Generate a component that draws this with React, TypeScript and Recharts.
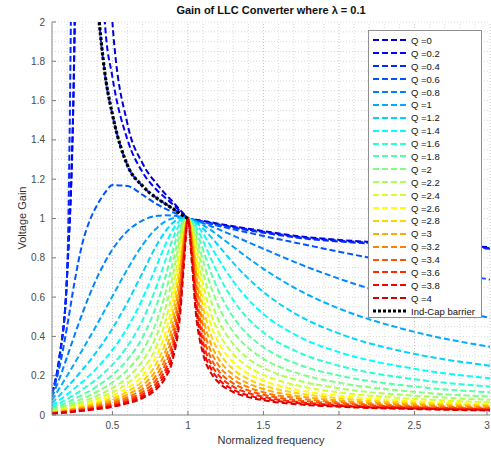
import { LineChart, Line, XAxis, YAxis, ReferenceLine } from "recharts"

// normalized frequency samples
const freqs = [0.1, 0.15, 0.2, 0.25, 0.3, 0.35, 0.4, 0.45, 0.5, 0.6, 0.7, 0.8, 0.85, 0.9, 0.95, 0.975, 1, 1.025, 1.05, 1.1, 1.15, 1.2, 1.3, 1.4, 1.5, 1.75, 2, 2.5, 3]

const qLabels = ["0", "0.2", "0.4", "0.6", "0.8", "1", "1.2", "1.4", "1.6", "1.8", "2", "2.2", "2.4", "2.6", "2.8", "3", "3.2", "3.4", "3.6", "3.8", "4"]

// jet colormap, one per Q
const qColors = ["#0000d4", "#0000ff", "#002aff", "#0055ff", "#0080ff", "#00aaff", "#00d4ff", "#00ffff", "#2affd4", "#55ffaa", "#80ff80", "#aaff55", "#d4ff2a", "#ffff00", "#ffd400", "#ffaa00", "#ff8000", "#ff5500", "#ff2a00", "#ff0000", "#d40000"]

const gainQ0 = [0.112, 0.299, 0.714, 2.0, 9, 6, 4, 2.7, 2.0, 1.48, 1.28, 1.17, 1.125, 1.085, 1.042, 1.021, 1, 0.997, 0.994, 0.988, 0.981, 0.974, 0.961, 0.948, 0.936, 0.908, 0.891, 0.87, 0.854]
const gainQ02 = [0.112, 0.298, 0.708, 1.95, 8, 5, 3, 2.0, 1.72, 1.4, 1.235, 1.14, 1.105, 1.072, 1.036, 1.018, 1, 0.996, 0.992, 0.985, 0.978, 0.97, 0.957, 0.944, 0.932, 0.904, 0.887, 0.866, 0.85]
const gainQ04 = [0.11, 0.29, 0.72, 4, 8, 4.5, 2.2, 1.74, 1.53, 1.27, 1.165, 1.1, 1.075, 1.05, 1.025, 1.012, 1, 0.995, 0.99, 0.982, 0.974, 0.966, 0.953, 0.94, 0.928, 0.9, 0.883, 0.862, 0.846]
const gainQ06 = [0.104, 0.245, 0.45, 0.68, 0.87, 0.99, 1.07, 1.13, 1.17, 1.165, 1.12, 1.07, 1.05, 1.032, 1.015, 1.007, 1, 0.995, 0.99, 0.981, 0.972, 0.963, 0.945, 0.928, 0.911, 0.871, 0.831, 0.757, 0.689]
const gainQ08 = [0.092, 0.187, 0.296, 0.408, 0.515, 0.614, 0.702, 0.778, 0.842, 0.936, 0.99, 1.014, 1.016, 1.014, 1.009, 1.005, 1, 0.995, 0.989, 0.976, 0.962, 0.946, 0.913, 0.879, 0.846, 0.765, 0.694, 0.579, 0.494]
const gainQ1 = [0.075, 0.137, 0.2, 0.264, 0.33, 0.396, 0.464, 0.534, 0.604, 0.743, 0.866, 0.956, 0.985, 1.001, 1.006, 1.004, 1, 0.994, 0.986, 0.966, 0.942, 0.914, 0.856, 0.798, 0.744, 0.629, 0.542, 0.423, 0.347]
const gainQ12 = [0.06, 0.1, 0.142, 0.184, 0.229, 0.276, 0.327, 0.381, 0.44, 0.574, 0.725, 0.874, 0.934, 0.978, 1.0, 1.003, 1, 0.993, 0.981, 0.949, 0.908, 0.864, 0.774, 0.694, 0.626, 0.499, 0.415, 0.311, 0.251]
const gainQ14 = [0.047, 0.076, 0.105, 0.136, 0.168, 0.203, 0.241, 0.284, 0.331, 0.445, 0.593, 0.774, 0.866, 0.943, 0.991, 1.0, 1, 0.991, 0.974, 0.923, 0.86, 0.796, 0.68, 0.587, 0.514, 0.393, 0.32, 0.235, 0.187]
const gainQ16 = [0.037, 0.059, 0.081, 0.104, 0.129, 0.156, 0.185, 0.219, 0.256, 0.351, 0.483, 0.672, 0.785, 0.896, 0.977, 0.997, 1, 0.987, 0.962, 0.886, 0.799, 0.717, 0.584, 0.489, 0.42, 0.313, 0.251, 0.182, 0.145]
const gainQ18 = [0.03, 0.047, 0.064, 0.082, 0.102, 0.123, 0.147, 0.173, 0.204, 0.282, 0.396, 0.576, 0.7, 0.839, 0.958, 0.992, 1, 0.983, 0.946, 0.84, 0.73, 0.636, 0.498, 0.407, 0.345, 0.252, 0.201, 0.145, 0.115]
const gainQ2 = [0.025, 0.038, 0.052, 0.067, 0.082, 0.1, 0.119, 0.141, 0.166, 0.23, 0.328, 0.492, 0.617, 0.775, 0.934, 0.985, 1, 0.977, 0.924, 0.786, 0.658, 0.558, 0.423, 0.341, 0.286, 0.207, 0.164, 0.118, 0.093]
const gainQ22 = [0.021, 0.032, 0.043, 0.055, 0.068, 0.082, 0.098, 0.116, 0.137, 0.191, 0.275, 0.421, 0.541, 0.708, 0.903, 0.976, 1, 0.968, 0.897, 0.728, 0.588, 0.487, 0.361, 0.287, 0.24, 0.172, 0.136, 0.098, 0.077]
const gainQ24 = [0.017, 0.027, 0.036, 0.046, 0.057, 0.069, 0.083, 0.098, 0.115, 0.161, 0.233, 0.363, 0.473, 0.641, 0.868, 0.965, 1, 0.958, 0.866, 0.668, 0.523, 0.426, 0.31, 0.245, 0.204, 0.146, 0.115, 0.082, 0.065]
const gainQ26 = [0.015, 0.023, 0.031, 0.039, 0.049, 0.059, 0.07, 0.083, 0.098, 0.138, 0.2, 0.314, 0.415, 0.578, 0.828, 0.951, 1, 0.944, 0.829, 0.609, 0.464, 0.373, 0.268, 0.21, 0.175, 0.124, 0.098, 0.07, 0.055]
const gainQ28 = [0.013, 0.02, 0.027, 0.034, 0.042, 0.051, 0.061, 0.072, 0.085, 0.119, 0.173, 0.274, 0.366, 0.52, 0.784, 0.934, 1, 0.929, 0.79, 0.553, 0.412, 0.328, 0.233, 0.183, 0.151, 0.108, 0.085, 0.061, 0.048]
const gainQ3 = [0.011, 0.017, 0.023, 0.03, 0.037, 0.044, 0.053, 0.063, 0.074, 0.104, 0.151, 0.241, 0.323, 0.468, 0.739, 0.914, 1, 0.91, 0.747, 0.501, 0.367, 0.289, 0.205, 0.16, 0.132, 0.094, 0.074, 0.053, 0.042]
const gainQ32 = [0.01, 0.015, 0.02, 0.026, 0.032, 0.039, 0.047, 0.055, 0.065, 0.091, 0.133, 0.213, 0.287, 0.422, 0.693, 0.892, 1, 0.889, 0.704, 0.454, 0.328, 0.257, 0.181, 0.141, 0.116, 0.083, 0.065, 0.046, 0.037]
const gainQ34 = [0.009, 0.013, 0.018, 0.023, 0.029, 0.035, 0.041, 0.049, 0.058, 0.081, 0.118, 0.189, 0.257, 0.38, 0.647, 0.867, 1, 0.865, 0.661, 0.412, 0.294, 0.229, 0.161, 0.125, 0.103, 0.073, 0.058, 0.041, 0.032]
const gainQ36 = [0.008, 0.012, 0.016, 0.021, 0.025, 0.031, 0.037, 0.044, 0.051, 0.072, 0.105, 0.169, 0.23, 0.344, 0.603, 0.839, 1, 0.839, 0.618, 0.374, 0.265, 0.206, 0.144, 0.112, 0.092, 0.065, 0.051, 0.037, 0.029]
const gainQ38 = [0.007, 0.011, 0.014, 0.019, 0.023, 0.028, 0.033, 0.039, 0.046, 0.065, 0.095, 0.152, 0.208, 0.312, 0.561, 0.81, 1, 0.812, 0.577, 0.34, 0.239, 0.185, 0.129, 0.1, 0.083, 0.059, 0.046, 0.033, 0.026]
const gainQ4 = [0.006, 0.01, 0.013, 0.017, 0.021, 0.025, 0.03, 0.035, 0.042, 0.059, 0.086, 0.138, 0.188, 0.284, 0.522, 0.78, 1, 0.782, 0.538, 0.311, 0.217, 0.168, 0.117, 0.091, 0.075, 0.053, 0.042, 0.03, 0.023]

// inductive / capacitive boundary, only drawn up to fn = 1
const barrierGain = [null, null, null, null, null, null, 2.1, 1.74, 1.53, 1.27, 1.165, 1.1, 1.075, 1.05, 1.025, 1.012, 1, null, null, null, null, null, null, null, null, null, null, null, null]

const qSeries = [gainQ0, gainQ02, gainQ04, gainQ06, gainQ08, gainQ1, gainQ12, gainQ14, gainQ16, gainQ18, gainQ2, gainQ22, gainQ24, gainQ26, gainQ28, gainQ3, gainQ32, gainQ34, gainQ36, gainQ38, gainQ4]

const xTicks = [0.5, 1, 1.5, 2, 2.5, 3]
const yTicks = [0, 0.2, 0.4, 0.6, 0.8, 1, 1.2, 1.4, 1.6, 1.8, 2]

const chartData = freqs.map((f, i) => {
  const row: Record<string, number | null> = { f }
  qSeries.forEach((s, k) => {
    row[`q${k}`] = s[i]
  })
  row.barrier = barrierGain[i]
  return row
})

const gridX = Array.from({ length: 30 }, (_, i) => Number((0.1 + i * 0.1).toFixed(1)))
const gridY = Array.from({ length: 41 }, (_, i) => Number((i * 0.05).toFixed(2)))

const FONT = '"Liberation Sans", Arial, Helvetica, sans-serif'
const TICK_GAP = 7

function XTick(props: any) {
  const { x, y, payload } = props
  const axisY = y - TICK_GAP
  return (
    <g>
      <line x1={x} x2={x} y1={axisY} y2={axisY - 4} stroke="#7a7a7a" />
      <text x={x} y={y} dy="0.71em" textAnchor="middle" fontSize={10} fill="#4a4a4a" fontFamily={FONT}>
        {String(payload.value)}
      </text>
    </g>
  )
}

function YTick(props: any) {
  const { x, y, payload } = props
  const axisX = x + TICK_GAP
  return (
    <g>
      <line x1={axisX} x2={axisX + 4} y1={y} y2={y} stroke="#7a7a7a" />
      <text x={x} y={y} dy="0.35em" textAnchor="end" fontSize={10} fill="#4a4a4a" fontFamily={FONT}>
        {String(payload.value)}
      </text>
    </g>
  )
}

function LegendBox() {
  const rows = [
    ...qLabels.map((q, i) => ({ label: `Q =${q}`, color: qColors[i], dash: "6 3", w: 2 })),
    { label: "Ind-Cap barrier", color: "#000000", dash: "3 2", w: 3 }
  ]
  return (
    <div
      style={{
        position: "absolute",
        left: 368,
        top: 30,
        width: 114,
        height: 288,
        boxSizing: "border-box",
        border: "1px solid #8f8f8f",
        background: "#ffffff",
        paddingTop: 3,
        fontFamily: FONT,
        fontSize: 9.5,
        color: "#111"
      }}
    >
      {rows.map((r) => (
        <div key={r.label} style={{ display: "flex", alignItems: "center", height: 12.9 }}>
          <svg width={40} height={8} style={{ marginLeft: 2 }}>
            <line x1={2} x2={35} y1={4} y2={4} stroke={r.color} strokeWidth={r.w} strokeDasharray={r.dash} />
          </svg>
          <span style={{ whiteSpace: "nowrap" }}>{r.label}</span>
        </div>
      ))}
    </div>
  )
}

export default function App() {
  return (
    <div style={{ position: "absolute", left: 0, top: 0, width: 491, height: 453, background: "#fff", fontFamily: FONT }}>
      <LineChart width={491} height={453} data={chartData} margin={{ top: 22, right: 1, bottom: 0, left: 0 }}>
        {gridX.map((v) => (
          <ReferenceLine key={`gx${v}`} x={v} stroke={v % 0.5 === 0 ? "#c4c4c4" : "#dadada"} strokeDasharray="1 2" />
        ))}
        {gridY.map((v) => (
          <ReferenceLine key={`gy${v}`} y={v} stroke="#dadada" strokeDasharray="1 2" />
        ))}
        <XAxis
          type="number"
          dataKey="f"
          domain={[0.1, 3]}
          allowDataOverflow
          ticks={xTicks}
          height={38}
          tickSize={0}
          tickMargin={TICK_GAP}
          tick={<XTick />}
          stroke="#8a8a8a"
        />
        <YAxis
          type="number"
          domain={[0, 2]}
          allowDataOverflow
          ticks={yTicks}
          width={52}
          tickSize={0}
          tickMargin={TICK_GAP}
          tick={<YTick />}
          stroke="#8a8a8a"
        />
        {qSeries.map((_, k) => (
          <Line
            key={`q${k}`}
            type="monotone"
            dataKey={`q${k}`}
            stroke={qColors[k]}
            strokeWidth={2}
            strokeDasharray="6 3"
            dot={false}
            isAnimationActive={false}
          />
        ))}
        <Line
          type="monotone"
          dataKey="barrier"
          stroke="#000000"
          strokeWidth={3.2}
          strokeDasharray="3 2"
          dot={false}
          isAnimationActive={false}
        />
      </LineChart>
      <div style={{ position: "absolute", left: 52, width: 438, top: 4, textAlign: "center", fontSize: 11, fontWeight: "bold", color: "#111" }}>
        Gain of LLC Converter where λ = 0.1
      </div>
      <div style={{ position: "absolute", left: 52, width: 438, top: 434, textAlign: "center", fontSize: 11, color: "#333" }}>
        Normalized frequency
      </div>
      <div
        style={{
          position: "absolute",
          left: 22,
          top: 218,
          transform: "translate(-50%, -50%) rotate(-90deg)",
          fontSize: 11,
          color: "#333",
          whiteSpace: "nowrap"
        }}
      >
        Voltage Gain
      </div>
      <LegendBox />
    </div>
  )
}
